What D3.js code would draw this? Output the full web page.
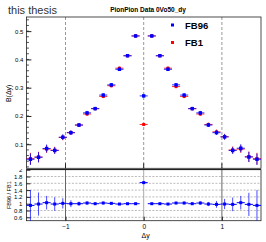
<!DOCTYPE html>
<html>
<head>
<meta charset="utf-8">
<script src="https://cdn.jsdelivr.net/npm/d3@7"></script>
<style>
  body { margin: 0; background: #fff; }
  text { font-family: "Liberation Sans", Arial, sans-serif; }
</style>
</head>
<body>
<div id="chart"></div>
<script>
// histogram binning (29 bins on [-1.5, 1.5])
const nBins = 29;
const xRange = [-1.5, 1.5];

const fb96 = [0.047, 0.054, 0.085, 0.078, 0.125, 0.141, 0.168, 0.211, 0.226, 0.274, 0.310, 0.365, 0.413, 0.483,
  0.271, 0.483, 0.413, 0.365, 0.310, 0.274, 0.226, 0.211, 0.168, 0.141, 0.126, 0.078, 0.086, 0.055, 0.047];
const fb96Err = [0.020, 0.018, 0.014, 0.012, 0.010, 0.008, 0.007, 0.007, 0.006, 0.006, 0.006, 0.006, 0.005, 0.005,
  0.005, 0.005, 0.005, 0.006, 0.006, 0.006, 0.006, 0.007, 0.007, 0.008, 0.010, 0.012, 0.014, 0.018, 0.020];
const fb1 = [0.049, 0.055, 0.083, 0.079, 0.124, 0.141, 0.168, 0.207, 0.226, 0.269, 0.307, 0.369, 0.413, 0.483,
  0.170, 0.483, 0.413, 0.369, 0.304, 0.269, 0.226, 0.207, 0.170, 0.144, 0.127, 0.080, 0.083, 0.056, 0.049];
const ratio = [0.95, 0.99, 1.03, 0.99, 1.01, 1.00, 1.00, 1.02, 1.00, 1.02, 1.01, 0.99, 1.00, 1.00,
  1.62, 1.00, 1.00, 0.99, 1.02, 1.02, 1.00, 1.02, 0.99, 0.98, 0.99, 0.98, 1.03, 0.98, 0.95];
const ratioErr = [0.45, 0.34, 0.20, 0.20, 0.15, 0.10, 0.06, 0.05, 0.04, 0.04, 0.03, 0.03, 0.02, 0.02,
  0.03, 0.02, 0.02, 0.03, 0.03, 0.04, 0.04, 0.05, 0.06, 0.10, 0.15, 0.20, 0.20, 0.34, 0.45];

const topTicks = [0.1, 0.2, 0.3, 0.4, 0.5];
const ratioTicks = [0.6, 0.8, 1, 1.2, 1.4, 1.6, 1.8, 2];
const ratioGrid = [0.6, 0.8, 1.2, 1.4, 1.6, 1.8];
const xTicks = [-1, 0, 1];
const vLines = [-1, 0, 1];

const W = 266, H = 242;
const binW = (xRange[1] - xRange[0]) / nBins;
const centers = d3.range(nBins).map((i) => xRange[0] + (i + 0.5) * binW);

const svg = d3.select('#chart').append('svg')
  .attr('width', W).attr('height', H);

const x = d3.scaleLinear().domain(xRange).range([26.4, 261]);
const yTop = d3.scaleLinear().domain([0.015, 0.55]).range([168.3, 17]);
const yBot = d3.scaleLinear().domain([0.5, 2]).range([220.7, 169.7]);

// ---- texts on top
svg.append('text')
  .attr('x', 8).attr('y', 14)
  .attr('font-size', 11).attr('fill', '#333')
  .text('this thesis');

svg.append('text')
  .attr('x', 148).attr('y', 12)
  .attr('text-anchor', 'middle')
  .attr('font-size', 6.5).attr('font-weight', 'bold')
  .text('PionPion Data 0Vo50_dy');

// ---- upper pad
const up = svg.append('g').attr('class', 'upper');

up.selectAll('line.vl').data(vLines).enter().append('line')
  .attr('class', 'vl')
  .attr('x1', (d) => x(d)).attr('x2', (d) => x(d))
  .attr('y1', yTop.range()[1]).attr('y2', yTop.range()[0])
  .attr('stroke', '#999').attr('stroke-width', 1)
  .attr('stroke-dasharray', '3,2');

up.append('rect')
  .attr('x', x.range()[0]).attr('y', yTop.range()[1])
  .attr('width', x.range()[1] - x.range()[0])
  .attr('height', yTop.range()[0] - yTop.range()[1])
  .attr('fill', 'none').attr('stroke', '#222').attr('stroke-width', 0.8);

const yAxisTop = d3.axisLeft(yTop).tickValues(topTicks).tickSize(-5)
  .tickFormat(d3.format('.1f')).tickPadding(4);
up.append('g')
  .attr('transform', `translate(${x.range()[0]},0)`)
  .call(yAxisTop)
  .call((g) => g.select('.domain').remove())
  .call((g) => g.selectAll('text').attr('font-size', 6).attr('font-family', 'Liberation Sans, Arial')
    .attr('x', -3))
  .call((g) => g.selectAll('line').attr('stroke', '#222'));

// minor y ticks
up.selectAll('line.ymin').data(d3.range(0.02, 0.55, 0.02)).enter().append('line')
  .attr('x1', x.range()[0]).attr('x2', x.range()[0] + 2.5)
  .attr('y1', (d) => yTop(d)).attr('y2', (d) => yTop(d))
  .attr('stroke', '#222').attr('stroke-width', 0.8);

// x ticks on upper pad bottom
up.selectAll('line.xt').data(xTicks).enter().append('line')
  .attr('x1', (d) => x(d)).attr('x2', (d) => x(d))
  .attr('y1', yTop.range()[0]).attr('y2', yTop.range()[0] - 5)
  .attr('stroke', '#222');

up.append('text')
  .attr('transform', `translate(11,${yTop(0.28)}) rotate(-90)`)
  .attr('text-anchor', 'middle').attr('font-size', 7)
  .text('B(Δy)');

function drawPoints(g, vals, errs, color, size) {
  const pts = g.selectAll(null).data(vals.map((v, i) => ({ x: centers[i], v, e: errs ? errs[i] : 0 })))
    .enter().append('g');
  pts.append('line')
    .attr('x1', (d) => x(d.x - binW / 2)).attr('x2', (d) => x(d.x + binW / 2))
    .attr('y1', (d) => yTop(d.v)).attr('y2', (d) => yTop(d.v))
    .attr('stroke', color).attr('stroke-width', 1).attr('opacity', 0.8);
  pts.append('line')
    .attr('x1', (d) => x(d.x)).attr('x2', (d) => x(d.x))
    .attr('y1', (d) => yTop(d.v - d.e)).attr('y2', (d) => yTop(d.v + d.e))
    .attr('stroke', color).attr('stroke-width', 1).attr('opacity', 0.8);
  pts.append('rect')
    .attr('x', (d) => x(d.x) - size / 2).attr('y', (d) => yTop(d.v) - size / 2)
    .attr('width', size).attr('height', size)
    .attr('fill', color);
}

const fb1Err = fb96Err.map((e, i) => e * fb1[i] / fb96[i]);
drawPoints(up.append('g'), fb1, fb1Err, '#ff0000', 3);
drawPoints(up.append('g'), fb96, fb96Err, '#0000ff', 3.4);

// legend
const legend = up.append('g');
const legendItems = [{ name: 'FB96', color: '#0000ff', y: 25 }, { name: 'FB1', color: '#ff0000', y: 42.5 }];
legendItems.forEach((d) => {
  legend.append('rect').attr('x', 171).attr('y', d.y - 1.5).attr('width', 3).attr('height', 3).attr('fill', d.color);
  legend.append('text').attr('x', 185).attr('y', d.y + 3.5)
    .attr('font-size', 9.5).attr('font-weight', 'bold').text(d.name);
});

// ---- lower pad
svg.append('clipPath').attr('id', 'lowclip')
  .append('rect').attr('x', 0).attr('y', 169).attr('width', W).attr('height', H - 169);
const low = svg.append('g').attr('clip-path', 'url(#lowclip)');

low.selectAll('line.hg').data(ratioGrid).enter().append('line')
  .attr('x1', x.range()[0]).attr('x2', x.range()[1])
  .attr('y1', (d) => yBot(d)).attr('y2', (d) => yBot(d))
  .attr('stroke', '#aaa').attr('stroke-width', 0.8).attr('stroke-dasharray', '2,1.5');

low.selectAll('line.vl').data(vLines).enter().append('line')
  .attr('x1', (d) => x(d)).attr('x2', (d) => x(d))
  .attr('y1', yBot.range()[1]).attr('y2', yBot.range()[0])
  .attr('stroke', (d) => (d === 0 ? '#aaa' : '#666')).attr('stroke-width', 1);

low.append('rect')
  .attr('x', x.range()[0]).attr('y', yBot.range()[1])
  .attr('width', x.range()[1] - x.range()[0])
  .attr('height', yBot.range()[0] - yBot.range()[1])
  .attr('fill', 'none').attr('stroke', '#222').attr('stroke-width', 0.8);

low.append('line')
  .attr('x1', x.range()[0]).attr('x2', x.range()[1])
  .attr('y1', 169.3).attr('y2', 169.3)
  .attr('stroke', '#222').attr('stroke-width', 1.6);

const yAxisBot = d3.axisLeft(yBot).tickValues(ratioTicks).tickSize(-4)
  .tickFormat((d) => d3.format('')(+d.toFixed(1))).tickPadding(4);
low.append('g')
  .attr('transform', `translate(${x.range()[0]},0)`)
  .call(yAxisBot)
  .call((g) => g.select('.domain').remove())
  .call((g) => g.selectAll('text').attr('font-size', 6).attr('font-family', 'Liberation Sans, Arial')
    .attr('x', -4))
  .call((g) => g.selectAll('line').attr('stroke', '#222'));

const xAxis = d3.axisBottom(x).tickValues(xTicks).tickSize(-4).tickFormat((d) => (d < 0 ? '\u2212' + (-d) : d))
  .tickPadding(4);
svg.append('g')
  .attr('transform', `translate(0,${yBot.range()[0]})`)
  .call(xAxis)
  .call((g) => g.select('.domain').remove())
  .call((g) => g.selectAll('text').attr('font-size', 6.5).attr('font-family', 'Liberation Sans, Arial'))
  .call((g) => g.selectAll('line').attr('stroke', '#222'));

svg.append('text')
  .attr('x', x(0) + 2).attr('y', 238)
  .attr('text-anchor', 'middle').attr('font-size', 7)
  .text('Δy');

svg.append('text')
  .attr('transform', `translate(11,${yBot(1.25)}) rotate(-90)`)
  .attr('text-anchor', 'middle').attr('font-size', 5.5)
  .text('FB96 / FB1');

const rp = low.append('g').selectAll(null)
  .data(ratio.map((v, i) => ({ x: centers[i], v, e: ratioErr[i] })))
  .enter().append('g');
rp.append('line')
  .attr('x1', (d) => x(d.x - binW / 2)).attr('x2', (d) => x(d.x + binW / 2))
  .attr('y1', (d) => yBot(d.v)).attr('y2', (d) => yBot(d.v))
  .attr('stroke', '#0000ff').attr('stroke-width', 1);
rp.append('line')
  .attr('x1', (d) => x(d.x)).attr('x2', (d) => x(d.x))
  .attr('y1', (d) => yBot(d.v - d.e)).attr('y2', (d) => yBot(d.v + d.e))
  .attr('stroke', '#0000ff').attr('stroke-width', 1).attr('opacity', 0.7);
rp.append('rect')
  .attr('x', (d) => x(d.x) - 1.5).attr('y', (d) => yBot(d.v) - 1.5)
  .attr('width', 3).attr('height', 3).attr('fill', '#0000ff');
</script>
</body>
</html>
